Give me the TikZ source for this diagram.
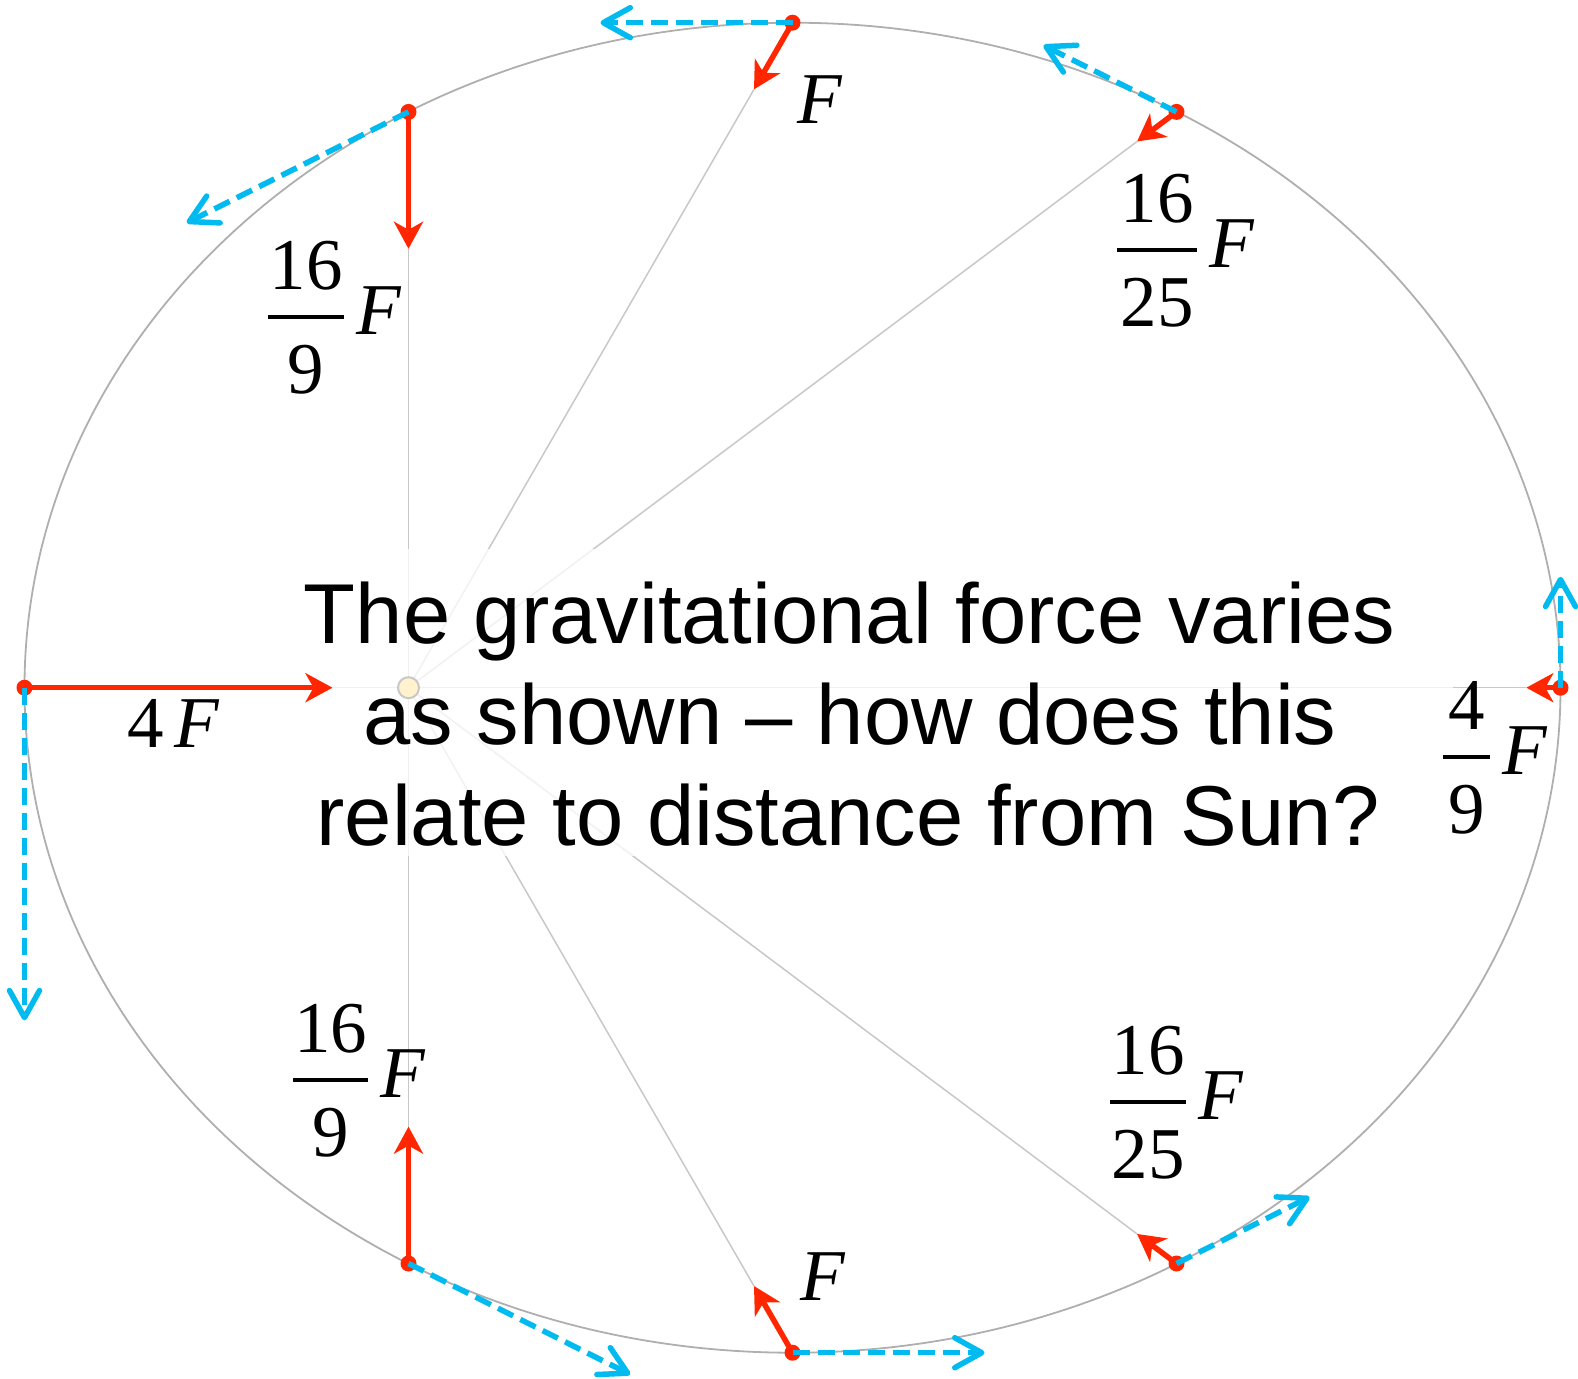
\documentclass[tikz,border=0pt]{standalone}
\usepackage{fontspec}
\setmainfont{Liberation Serif}
\newfontfamily\sansfam{Liberation Sans}
\usetikzlibrary{arrows.meta,calc}
\definecolor{forcered}{RGB}{255,38,0}
\definecolor{velblue}{RGB}{0,186,240}
\definecolor{orbitgray}{RGB}{175,175,175}
\definecolor{spokegray}{RGB}{200,200,200}
\definecolor{sunfill}{RGB}{255,242,204}
\definecolor{sunedge}{RGB}{200,200,200}
\newcommand{\fraclab}[6]{%
  \node[lab,anchor=base] (#1n) at ({#2},{#3-28}) {#5};
  \node[lab,anchor=base] (#1d) at ({#2},{#3+76}) {#6};
  \draw[fbar] ({#2-#4},{#3}) -- ({#2+#4},{#3});
  \node[lab,anchor=base west] (#1f) at ({#2+#4+12},{#3+17}) {\textit{F}};
}
\begin{document}
\begin{tikzpicture}[x=1pt,y=-1pt,
  orbit/.style={draw=orbitgray,line width=1.8pt},
  spoke/.style={draw=spokegray,line width=1.5pt},
  force/.style={draw=forcered,line width=5.5pt,-{Stealth[length=27pt,width=29pt,inset=8pt]}},
  vel/.style={draw=velblue,line width=5.5pt,dash pattern=on 17pt off 8pt,-{Straight Barb[length=27pt,width=30pt,round]}},
  pdot/.style={circle,fill=forcered,inner sep=0pt,minimum size=16pt},
  sunball/.style={circle,fill=sunfill,draw=sunedge,line width=2pt,inner sep=0pt,minimum size=21pt},
  lab/.style={inner sep=0pt,font=\fontsize{73}{88}\selectfont},
  maintext/.style={inner sep=0pt,font=\sansfam\fontsize{85}{102}\selectfont},
  fbar/.style={draw=black,line width=3.5pt}
]
\useasboundingbox (0,0) rectangle (1578,1378);
% positions
\coordinate (S) at (408.5,687.7);
\coordinate (P1) at (792.5,22.7);
\coordinate (P2) at (408.5,111.9);
\coordinate (P3) at (1176.5,111.9);
\coordinate (P4) at (24.5,687.7);
\coordinate (P5) at (1560.5,687.7);
\coordinate (P6) at (792.5,1352.7);
\coordinate (P7) at (408.5,1263.5);
\coordinate (P8) at (1176.5,1263.5);
% force tips
\coordinate (T1) at ($(P1)!77pt!(S)$);
\coordinate (T2) at ($(P2)!136.9pt!(S)$);
\coordinate (T3) at ($(P3)!49.3pt!(S)$);
\coordinate (T4) at ($(P4)!308pt!(S)$);
\coordinate (T5) at ($(P5)!34.2pt!(S)$);
\coordinate (T6) at ($(P6)!77pt!(S)$);
\coordinate (T7) at ($(P7)!136.9pt!(S)$);
\coordinate (T8) at ($(P8)!49.3pt!(S)$);
% velocity tips
\coordinate (V1) at ($(P1)+(-192,0)$);
\coordinate (V2) at ($(P2)+(-221.7,110.9)$);
\coordinate (V3) at ($(P3)+(-133,-66.5)$);
\coordinate (V4) at ($(P4)+(0,332.6)$);
\coordinate (V5) at ($(P5)+(0,-110.9)$);
\coordinate (V6) at ($(P6)+(192,0)$);
\coordinate (V7) at ($(P7)+(221.7,110.9)$);
\coordinate (V8) at ($(P8)+(133,-66.5)$);
% orbit
\draw[orbit] (792.5,687.7) ellipse [x radius=768, y radius=665];
% spokes
\foreach \i in {1,...,8} { \draw[spoke] (S) -- (T\i); }
% translucent text background
\fill[white,opacity=0.75] (246,549) rectangle (1453,856);
% question text
\node[maintext,anchor=base] (q1) at (849.5,643) {The gravitational force varies};
\node[maintext,anchor=base] (q2) at (850,744) {as shown – how does this};
\node[maintext,anchor=base] (q3) at (848,845) {relate to distance from Sun?};
% force arrows
\foreach \i in {1,...,8} { \draw[force] (P\i) -- (T\i); }
% planet dots
\foreach \i in {1,...,8} { \node[pdot] (D\i) at (P\i) {}; }
% velocity arrows
\foreach \i in {1,...,8} { \draw[vel] (D\i.center) -- (V\i); }
% sun
\node[sunball] (sun) at (S) {};
% labels
\node[lab,anchor=base west] (lF1) at (797,124) {\textit{F}};
\node[lab,anchor=base west] (lF6) at (800,1300) {\textit{F}};
\node[lab,anchor=base west] (l4F) at (127,747) {4\kern11pt\textit{F}};
\fraclab{ul}{306}{317}{38}{16}{9}
\fraclab{ur}{1157}{250}{40}{16}{25}
\fraclab{ll}{330.5}{1080}{37.5}{16}{9}
\fraclab{lr}{1148}{1102}{38}{16}{25}
\fraclab{rt}{1466.5}{757}{23.5}{4}{9}
\end{tikzpicture}
\end{document}
